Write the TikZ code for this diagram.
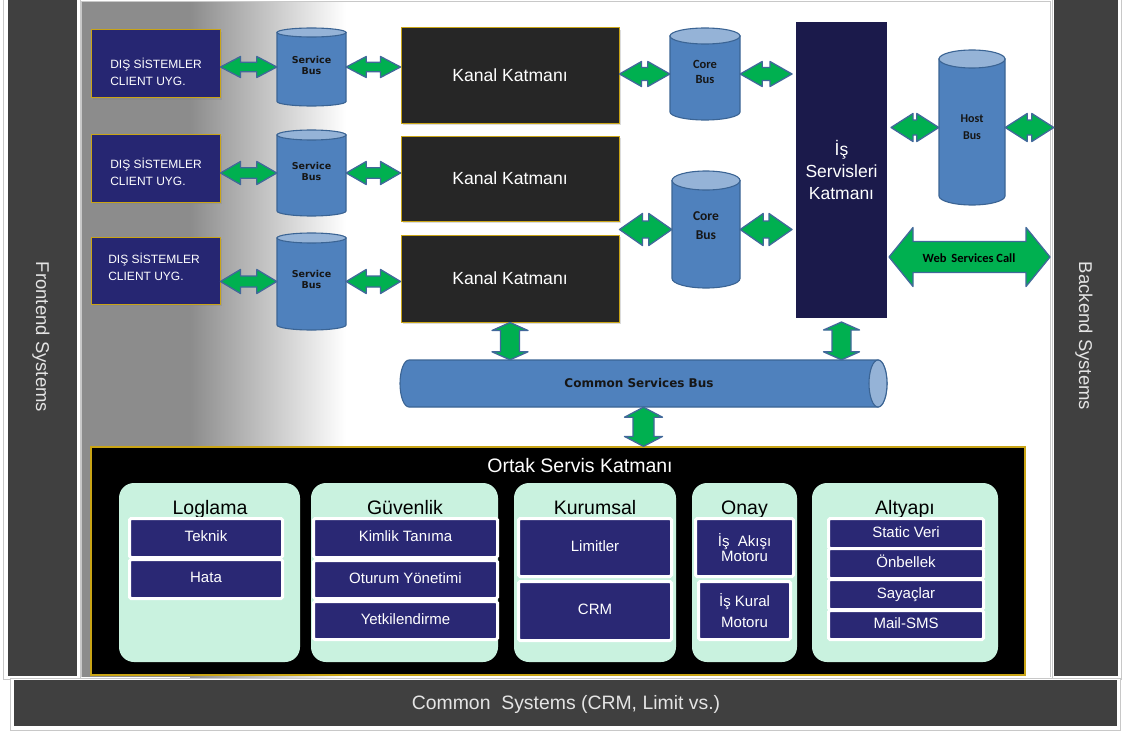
\documentclass[tikz,border=0pt]{standalone}
\usepackage{fontspec}
\setmainfont{Liberation Sans}
\newfontfamily\verdfont{DejaVu Sans}
\newfontfamily\calfont{Carlito}
\usetikzlibrary{calc,shadows}

\definecolor{barbg}{HTML}{404040}
\definecolor{bartext}{HTML}{E4E4E4}
\definecolor{framegray}{HTML}{C8C8C8}
\definecolor{areagray}{HTML}{8C8C8C}
\definecolor{gold}{HTML}{C9A416}
\definecolor{disnavy}{HTML}{262672}
\definecolor{kanalbg}{HTML}{262626}
\definecolor{isnavy}{HTML}{1B1A4B}
\definecolor{itemnavy}{HTML}{2A2874}
\definecolor{mint}{HTML}{C9F2DF}
\definecolor{busfill}{HTML}{4F81BD}
\definecolor{bustopfill}{HTML}{95B3D7}
\definecolor{busline}{HTML}{3B6494}
\definecolor{agreen}{HTML}{00B050}
\definecolor{aline}{HTML}{41689A}
\definecolor{bustext}{HTML}{161616}

% vertical cylinder: name, left x, top y, right x, bottom y, cap half-height
\newcommand{\vbus}[6]{%
  \path[busbody] (#2,{#3+#6}) -- (#2,{#5-#6})
    arc[start angle=180,end angle=360,x radius={(#4-#2)/2*1pt},y radius=#6pt]
    -- (#4,{#3+#6}) -- cycle;
  \path[bustop] ({(#2+#4)/2},{#3+#6}) ellipse[x radius={(#4-#2)/2*1pt},y radius=#6pt];
  \node[busnode,minimum width={(#4-#2)*1pt},minimum height={(#5-#3)*1pt}]
    (#1) at ({(#2+#4)/2},{(#3+#5)/2}) {};
}

\tikzset{
  softshadow/.style={drop shadow={opacity=0.28,shadow xshift=1.5pt,shadow yshift=-1.8pt}},
  sidebar/.style={fill=barbg,draw=none,inner sep=0pt},
  bartxt/.style={text=bartext,font=\fontsize{18.5}{22}\selectfont},
  disbox/.style={draw=gold,line width=1pt,fill=disnavy,minimum width=129pt,inner sep=0pt,softshadow},
  distxt/.style={text=white,align=left,inner sep=0pt,font=\fontsize{12}{17.5}\selectfont},
  kanalbox/.style={draw=gold,line width=1pt,fill=kanalbg,minimum width=218pt,inner sep=0pt,
    text=white,font=\fontsize{17.6}{21}\selectfont,softshadow},
  isbox/.style={draw=white,line width=4pt,fill=isnavy,minimum width=95pt,minimum height=300pt,inner sep=0pt,
    drop shadow={opacity=0.18,shadow xshift=1.2pt,shadow yshift=-1.6pt}},
  busbody/.style={fill=busfill,draw=busline,line width=1.1pt},
  bustop/.style={fill=bustopfill,draw=busline,line width=1.1pt},
  busnode/.style={rectangle,draw=none,inner sep=0pt},
  sbtxt/.style={text=bustext,align=center,inner sep=0pt,font=\verdfont\bfseries\fontsize{9.5}{11}\selectfont},
  cbtxt/.style={text=bustext,align=center,inner sep=0pt,font=\calfont\bfseries\fontsize{12.5}{15.5}\selectfont},
  harrow/.style n args={3}{fill=agreen,draw=aline,line width=1.3pt,line join=round,
    to path={let \p1=(\tikztostart), \p2=(\tikztotarget) in
      (\x1,\y1) -- ({\x1+#3pt},{\y1+#1pt}) -- ({\x1+#3pt},{\y1+#2pt})
      -- ({\x2-#3pt},{\y1+#2pt}) -- ({\x2-#3pt},{\y1+#1pt}) -- (\x2,\y1)
      -- ({\x2-#3pt},{\y1-#1pt}) -- ({\x2-#3pt},{\y1-#2pt})
      -- ({\x1+#3pt},{\y1-#2pt}) -- ({\x1+#3pt},{\y1-#1pt}) -- cycle}},
  varrow/.style n args={3}{fill=agreen,draw=aline,line width=1.3pt,line join=round,
    to path={let \p1=(\tikztostart), \p2=(\tikztotarget) in
      (\x1,\y1) -- ({\x1+#1pt},{\y1-#3pt}) -- ({\x1+#2pt},{\y1-#3pt})
      -- ({\x1+#2pt},{\y2+#3pt}) -- ({\x1+#1pt},{\y2+#3pt}) -- (\x1,\y2)
      -- ({\x1-#1pt},{\y2+#3pt}) -- ({\x1-#2pt},{\y2+#3pt})
      -- ({\x1-#2pt},{\y1-#3pt}) -- ({\x1-#1pt},{\y1-#3pt}) -- cycle}},
  ortakbox/.style={draw=gold,line width=1.2pt,fill=black,inner sep=0pt},
  grouppanel/.style={fill=mint,draw=none,rounded corners=15pt,inner sep=0pt},
  grouptitle/.style={text=black,inner sep=0pt,text height=14pt,text depth=4.5pt,
    font=\fontsize{19.5}{23}\selectfont},
  itembase/.style={fill=itemnavy,draw=white,line width=3pt,rounded corners=1.5pt,inner sep=0pt,
    text=white,align=center,font=\fontsize{15}{17}\selectfont},
  itembox/.style={itembase,text height=10.5pt,text depth=3pt},
}

\begin{document}
\begin{tikzpicture}[x=1pt,y=-1pt]
\useasboundingbox (0,0) rectangle (1123,733);
\fill[white] (0,0) rectangle (1123,733);

% ---------- working area with grey fade on the left ----------
\fill[areagray] (81,2) rectangle (190,677);
\shade[left color=areagray,right color=white] (190,2) rectangle (346,677);
\draw[framegray,line width=1pt] (81,677) -- (81,2) -- (1050,2) -- (1050,677);

% ---------- side and bottom bars ----------
\draw[framegray,fill=white,line width=1pt] (3,-2) rectangle (80,679);
\node[sidebar,minimum width=69pt,minimum height=676pt] (front) at (42.5,338) {};
\node[bartxt,rotate=-90] (fronttxt) at (41,337) {Frontend Systems};

\draw[framegray,fill=white,line width=1pt] (1052,-2) rectangle (1121,679);
\node[sidebar,minimum width=64pt,minimum height=676pt] (back) at (1086,338) {};
\node[bartxt,rotate=-90] (backtxt) at (1084,336) {Backend Systems};

\draw[framegray,fill=white,line width=1pt] (10,678) rectangle (1120,730);
\node[sidebar,minimum width=1103pt,minimum height=46pt] (common) at (565,703) {};
\node[bartxt,font=\fontsize{19.4}{23}\selectfont] (commontxt) at (566,704) {Common\ \ Systems (CRM, Limit vs.)};

% ---------- external client applications ----------
\node[disbox,minimum height=68pt] (d1) at (155.5,64) {};
\node[disbox,minimum height=68pt] (d2) at (155.5,168) {};
\node[disbox,minimum height=67pt] (d3) at (155.5,270.5) {};
\node[distxt] (d1t) at (156,72) {DIŞ SİSTEMLER\\CLIENT UYG.};
\node[distxt] (d2t) at (156,172) {DIŞ SİSTEMLER\\CLIENT UYG.};
\node[distxt] (d3t) at (154,267) {DIŞ SİSTEMLER\\CLIENT UYG.};

% ---------- service buses ----------
\vbus{sb1}{277}{28}{346}{106}{4.5}
\vbus{sb2}{277}{130}{346}{216}{5}
\vbus{sb3}{277}{233}{346}{330}{5}
\node[sbtxt] (sb1t) at (311.5,65) {Service\\Bus};
\node[sbtxt] (sb2t) at (311.5,171.5) {Service\\Bus};
\node[sbtxt] (sb3t) at (311.5,279) {Service\\Bus};

% ---------- channel layers ----------
\node[kanalbox,minimum height=95pt] (k1) at (510,75.5) {Kanal Katmanı};
\node[kanalbox,minimum height=85pt] (k2) at (510,178.5) {Kanal Katmanı};
\node[kanalbox,minimum height=87pt] (k3) at (510,278.5) {\raisebox{-3pt}{Kanal Katmanı}};

% ---------- core and host buses ----------
\vbus{core1}{670}{28}{740}{120}{8}
\vbus{core2}{672}{171}{740}{288}{9.5}
\vbus{host}{939}{50}{1005}{205}{9}
\node[cbtxt] (core1t) at (705,72) {Core\\Bus};
\node[cbtxt,font=\calfont\bfseries\fontsize{13.5}{19}\selectfont] (core2t) at (706,226) {Core\\Bus};
\node[cbtxt,font=\calfont\bfseries\fontsize{12}{17}\selectfont] (hostt) at (972,127) {Host\\Bus};

% ---------- business services layer ----------
\node[isbox] (is) at (841.5,170) {};
\node[text=white,align=center,inner sep=0pt,font=\fontsize{17.5}{22}\selectfont] (ist) at (841.5,170) {İş\\Servisleri\\Katmanı};

% ---------- common services bus ----------
\path[busbody] (409,360) -- (878,360)
  arc[start angle=90,end angle=-90,x radius=9pt,y radius=23.5pt]
  -- (409,407) arc[start angle=270,end angle=90,x radius=9pt,y radius=23.5pt] -- cycle;
\path[bustop] (878,383.5) ellipse[x radius=9pt,y radius=23.5pt];
\node[busnode,minimum width=487pt,minimum height=47pt] (csb) at (643.5,383.5) {};
\node[text=bustext,inner sep=0pt,font=\verdfont\bfseries\fontsize{12}{14}\selectfont] (csbt) at (639,383) {Common Services Bus};

% ---------- connectors ----------
\draw[harrow={10.5}{4.8}{20}] (d1.east |- sb1.center) to (sb1.west);
\draw[harrow={10.5}{4.8}{20}] (sb1.east) to (k1.west |- sb1.center);
\draw[harrow={11.5}{5.2}{20}] (d2.east |- sb2.center) to (sb2.west);
\draw[harrow={11.5}{5.2}{20}] (sb2.east) to (k2.west |- sb2.center);
\draw[harrow={12}{5.5}{20}] (d3.east |- sb3.center) to (sb3.west);
\draw[harrow={12}{5.5}{20}] (sb3.east) to (k3.west |- sb3.center);

\draw[harrow={12.5}{6.5}{22}] (k1.east |- core1.center) to (core1.west);
\draw[harrow={12.5}{6.5}{22}] (core1.east) to (is.west |- core1.center);
\draw[harrow={16}{8.5}{23}] (k2.east |- core2.center) to (core2.west);
\draw[harrow={16}{8.5}{23}] (core2.east) to (is.west |- core2.center);

\draw[harrow={14}{7.5}{22}] (is.east |- host.center) to (host.west);
\draw[harrow={14}{7.5}{22}] (host.east) to (back.west |- host.center);

\coordinate (wsL) at (889,257);
\coordinate (wsR) at (1050,257);
\draw[harrow={29.5}{15.5}{24}] (wsL) to (wsR);
\node[text=black,inner sep=0pt,font=\calfont\bfseries\fontsize{12.5}{15}\selectfont] (wst) at (969,258) {Web\hspace{2pt} Services Call};

\draw[varrow={18}{9.5}{8}] (k3.south) to (k3.south |- csb.north);
\draw[varrow={18}{9.5}{8}] (is.south) to (is.south |- csb.north);

% ---------- shared services layer ----------
\node[ortakbox,minimum width=934pt,minimum height=228pt] (ortak) at (558,561) {};
\node[text=white,inner sep=0pt,font=\fontsize{19.5}{23}\selectfont] (ortakt) at (580,466) {Ortak\ Servis\ Katmanı};
\draw[varrow={19}{10.5}{10}] (csb.south) to (csb.south |- ortak.north);

\node[grouppanel,minimum width=181pt,minimum height=179pt] (log) at (209.5,572.5) {};
\node[grouppanel,minimum width=187pt,minimum height=179pt] (guv) at (404.5,572.5) {};
\node[grouppanel,minimum width=162pt,minimum height=179pt] (kur) at (595,572.5) {};
\node[grouppanel,minimum width=105pt,minimum height=179pt] (onay) at (744.5,572.5) {};
\node[grouppanel,minimum width=186pt,minimum height=179pt] (alt) at (905,572.5) {};

\node[grouptitle] (logt) at (210,509.5) {Loglama};
\node[grouptitle] (guvt) at (405,509.5) {Güvenlik};
\node[grouptitle] (kurt) at (595,509.5) {Kurumsal};
\node[grouptitle] (onayt) at (744.5,509.5) {Onay};
\node[grouptitle] (altt) at (905,509.5) {Altyapı};

% Loglama
\node[itembox,minimum width=153pt,minimum height=39pt] (teknik) at (206,538) {Teknik};
\node[itembox,minimum width=153pt,minimum height=39pt] (hata) at (206,579) {Hata};
% Güvenlik
\node[itembox,minimum width=184pt,minimum height=39pt] (kimlik) at (405.5,538) {Kimlik Tanıma};
\node[itembox,minimum width=184pt,minimum height=38pt] (oturum) at (405.5,579.5) {Oturum Yönetimi};
\node[itembox,minimum width=184pt,minimum height=38pt] (yetki) at (405.5,620.5) {Yetkilendirme};
% Kurumsal
\node[itembox,minimum width=153pt,minimum height=58pt] (limit) at (595,547.5) {Limitler};
\node[itembox,minimum width=153pt,minimum height=59pt] (crm) at (595,611) {CRM};
% Onay
\node[itembase,minimum width=98pt,minimum height=58pt,font=\fontsize{15}{13}\selectfont] (akis) at (744.5,547.5) {İş\ \ Akışı\\Motoru};
\node[itembase,minimum width=92pt,minimum height=58pt,font=\fontsize{15}{21}\selectfont] (kural) at (744.5,610.5) {İş Kural\\Motoru};
% Altyapı
\node[itembox,minimum width=155pt,minimum height=30pt] (static) at (906,533.5) {Static Veri};
\node[itembox,minimum width=155pt,minimum height=30pt] (onbellek) at (906,563.5) {Önbellek};
\node[itembox,minimum width=155pt,minimum height=30pt] (sayac) at (906,594.5) {Sayaçlar};
\node[itembox,minimum width=155pt,minimum height=29pt] (mail) at (906,625) {Mail-SMS};

\end{tikzpicture}
\end{document}
